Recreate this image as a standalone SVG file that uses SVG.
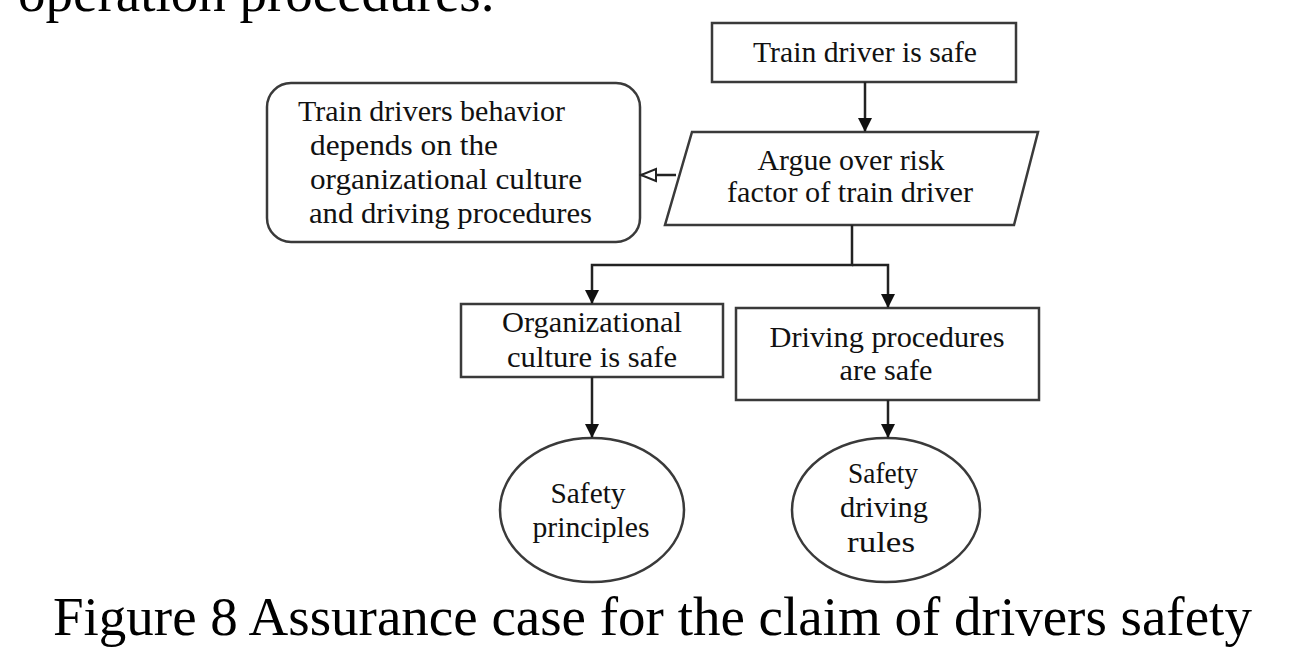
<svg xmlns="http://www.w3.org/2000/svg" width="1292" height="647" viewBox="0 0 1292 647">
<style>
.b{fill:#fff;stroke:#3a3a3a;stroke-width:2.5}
.t{font-family:"Liberation Serif",serif;font-size:29px;fill:#111;text-anchor:middle}
.tl{font-family:"Liberation Serif",serif;font-size:29px;fill:#111}
.c{fill:none;stroke:#222;stroke-width:2.5}
.cap{font-family:"Liberation Serif",serif;font-size:55px;fill:#000}
</style>
<defs>
<marker id="ar" markerWidth="14" markerHeight="16" refX="13" refY="7" orient="auto" markerUnits="userSpaceOnUse"><path d="M0,0 L14,7 L0,14 Z" fill="#111"/></marker>
<marker id="op" markerWidth="18" markerHeight="16" refX="16" refY="8" orient="auto" markerUnits="userSpaceOnUse"><path d="M1,2 L16,8 L1,14 Z" fill="#fff" stroke="#222" stroke-width="2"/></marker>
</defs>
<rect width="1292" height="647" fill="#fff"/>
<text class="cap" x="18" y="11">operation procedures.</text>
<g id="n1"><rect class="b" x="712" y="23" width="304" height="59"/><text class="t" x="865" y="62" textLength="224" lengthAdjust="spacingAndGlyphs">Train driver is safe</text></g>
<g id="n2"><polygon class="b" points="692,132 1038,132 1014,225 665,225"/><text class="t" x="851" y="170" textLength="187" lengthAdjust="spacingAndGlyphs">Argue over risk</text><text class="t" x="850" y="202" textLength="246" lengthAdjust="spacingAndGlyphs">factor of train driver</text></g>
<g id="n3"><rect class="b" x="267" y="83" width="373" height="159" rx="24"/><text class="tl" x="298" y="121" textLength="267" lengthAdjust="spacingAndGlyphs">Train drivers behavior</text><text class="tl" x="310" y="155" textLength="188" lengthAdjust="spacingAndGlyphs">depends on the</text><text class="tl" x="310" y="189" textLength="272" lengthAdjust="spacingAndGlyphs">organizational culture</text><text class="tl" x="309" y="223" textLength="283" lengthAdjust="spacingAndGlyphs">and driving procedures</text></g>
<g id="n4"><rect class="b" x="461" y="304" width="262" height="73"/><text class="t" x="592" y="332" textLength="180" lengthAdjust="spacingAndGlyphs">Organizational</text><text class="t" x="592" y="367" textLength="170" lengthAdjust="spacingAndGlyphs">culture is safe</text></g>
<g id="n5"><rect class="b" x="736" y="308" width="303" height="92"/><text class="t" x="887" y="347" textLength="235" lengthAdjust="spacingAndGlyphs">Driving procedures</text><text class="t" x="886" y="380" textLength="93" lengthAdjust="spacingAndGlyphs">are safe</text></g>
<g id="n6"><ellipse class="b" cx="592" cy="510" rx="92" ry="72"/><text class="t" x="588" y="503" textLength="75" lengthAdjust="spacingAndGlyphs">Safety</text><text class="t" x="591" y="537" textLength="117" lengthAdjust="spacingAndGlyphs">principles</text></g>
<g id="n7"><ellipse class="b" cx="886" cy="510" rx="94" ry="72"/><text class="t" x="883" y="483" textLength="70" lengthAdjust="spacingAndGlyphs">Safety</text><text class="t" x="884" y="517" textLength="88" lengthAdjust="spacingAndGlyphs">driving</text><text class="t" x="881" y="552" textLength="68" lengthAdjust="spacingAndGlyphs">rules</text></g>
<g id="connectors">
<path class="c" d="M865,82 V131" marker-end="url(#ar)"/>
<path class="c" d="M676,175 H641" marker-end="url(#op)" stroke-width="3.5"/>
<path class="c" d="M852,225 V265 H592 V303" marker-end="url(#ar)"/>
<path class="c" d="M852,265 H888 V307" marker-end="url(#ar)"/>
<path class="c" d="M592,377 V437" marker-end="url(#ar)"/>
<path class="c" d="M888,400 V437" marker-end="url(#ar)"/>
</g>
<text class="cap" x="53" y="635">Figure 8 Assurance case for the claim of drivers safety</text>
</svg>
